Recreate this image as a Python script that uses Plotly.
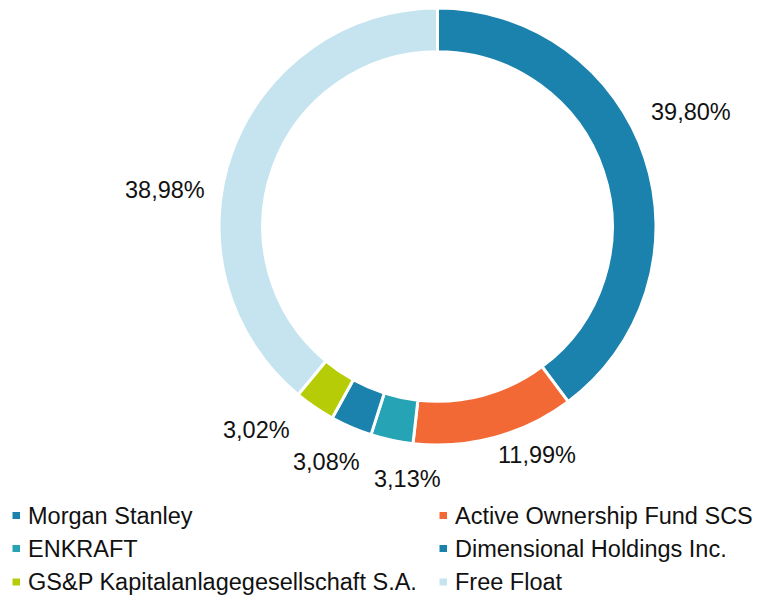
import plotly.graph_objects as go

holders = [
    "Morgan Stanley",
    "Active Ownership Fund SCS",
    "ENKRAFT",
    "Dimensional Holdings Inc.",
    "GS&P Kapitalanlagegesellschaft S.A.",
    "Free Float",
]
shares = [39.80, 11.99, 3.13, 3.08, 3.02, 38.98]
colors = ["#1b81ad", "#f26935", "#26a3b5", "#1b81ad", "#b5cc07", "#c5e4ef"]

# the page body keeps its default 8px margin, so the figure starts at (8, 8);
# all pixel positions below are given in window pixels
PAD = 8
W, H = 761 - 2 * PAD, 597 - PAD


def px(x):
    return (x - PAD) / W


def py(y):
    return min(1.0, 1 - (y - PAD) / H)


# window-pixel centres of the outside value labels
label_pos = [(691, 112), (537, 455), (407, 479), (326, 462), (256, 430), (165, 190)]

# two-column legend grid (window pixels)
leg_text_x = [26, 453]
leg_row_y = [515.5, 548.5, 582]

fig = go.Figure(
    go.Pie(
        labels=holders,
        values=shares,
        textinfo="none",
        sort=False,
        direction="clockwise",
        rotation=0,
        hole=0.8,
        marker=dict(colors=colors, line=dict(color="white", width=3)),
        domain=dict(x=[px(219), px(656)], y=[py(445), py(8)]),
        hovertemplate="%{label}: %{value:.2f}%<extra></extra>",
        showlegend=False,
    )
)

for v, (lx, ly) in zip(shares, label_pos):
    fig.add_annotation(
        x=px(lx), y=py(ly), xref="paper", yref="paper",
        text=f"{v:.2f}%".replace(".", ","),
        showarrow=False, font=dict(size=23.5, color="#111111"),
        xanchor="center", yanchor="middle",
    )

# legend laid out row by row, two entries per row
for i, (name, c) in enumerate(zip(holders, colors)):
    tx = leg_text_x[i % 2]
    ty = leg_row_y[i // 2]
    fig.add_shape(
        type="rect", xref="paper", yref="paper",
        x0=px(tx - 13.5), x1=px(tx - 6),
        y0=py(ty + 3.5), y1=py(ty - 3.5),
        fillcolor=c, line=dict(width=0),
    )
    fig.add_annotation(
        x=px(tx), y=py(ty), xref="paper", yref="paper",
        text=name, showarrow=False,
        font=dict(size=23.5, color="#111111"),
        xanchor="left", yanchor="middle",
    )

fig.update_layout(
    width=W,
    height=H,
    margin=dict(l=0, r=0, t=0, b=0),
    paper_bgcolor="white",
    plot_bgcolor="white",
    font=dict(family="Liberation Sans, Arial, sans-serif", size=23.5, color="#111111"),
)

fig.write_html("out.html")
